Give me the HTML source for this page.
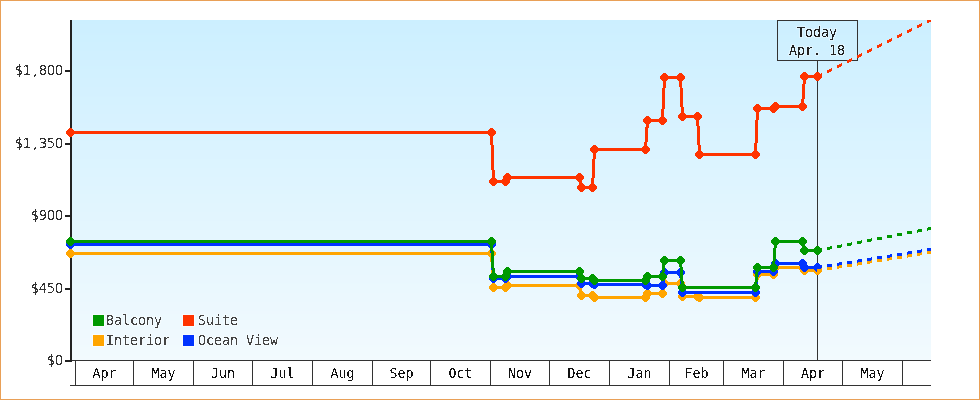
<!DOCTYPE html>
<html><head><meta charset="utf-8"><style>
html,body{margin:0;padding:0;background:#fff;}
#wrap{position:relative;width:980px;height:400px;box-sizing:border-box;border:1px solid #e9a057;overflow:hidden;background:#fff}
svg{position:absolute;left:-1px;top:-1px;display:block}
</style></head><body><div id="wrap">
<svg width="980" height="400" viewBox="0 0 980 400">
<defs><filter id="th" x="-10%" y="-30%" width="120%" height="160%" color-interpolation-filters="sRGB"><feComponentTransfer in="SourceGraphic" result="g"><feFuncA type="discrete" tableValues="0 0 1 1"/></feComponentTransfer><feMorphology in="g" operator="dilate" radius="1" result="d"/><feFlood flood-color="#fff" flood-opacity="0.35"/><feComposite in2="d" operator="in" result="h"/><feMerge><feMergeNode in="h"/><feMergeNode in="g"/></feMerge></filter><clipPath id="pc"><rect x="70" y="20" width="861" height="340"/></clipPath></defs>
<g shape-rendering="crispEdges">
<rect x="72" y="20" width="859" height="4" fill="#ccefff"/>
<rect x="72" y="24" width="859" height="9" fill="#cdefff"/>
<rect x="72" y="33" width="859" height="2" fill="#ceefff"/>
<rect x="72" y="35" width="859" height="7" fill="#cef0ff"/>
<rect x="72" y="42" width="859" height="9" fill="#cff0ff"/>
<rect x="72" y="51" width="859" height="9" fill="#d0f0ff"/>
<rect x="72" y="60" width="859" height="6" fill="#d1f0ff"/>
<rect x="72" y="66" width="859" height="3" fill="#d1f1ff"/>
<rect x="72" y="69" width="859" height="9" fill="#d2f1ff"/>
<rect x="72" y="78" width="859" height="9" fill="#d3f1ff"/>
<rect x="72" y="87" width="859" height="9" fill="#d4f1ff"/>
<rect x="72" y="96" width="859" height="1" fill="#d5f1ff"/>
<rect x="72" y="97" width="859" height="8" fill="#d5f2ff"/>
<rect x="72" y="105" width="859" height="9" fill="#d6f2ff"/>
<rect x="72" y="114" width="859" height="9" fill="#d7f2ff"/>
<rect x="72" y="123" width="859" height="5" fill="#d8f2ff"/>
<rect x="72" y="128" width="859" height="4" fill="#d8f3ff"/>
<rect x="72" y="132" width="859" height="9" fill="#d9f3ff"/>
<rect x="72" y="141" width="859" height="9" fill="#daf3ff"/>
<rect x="72" y="150" width="859" height="9" fill="#dbf3ff"/>
<rect x="72" y="159" width="859" height="9" fill="#dcf4ff"/>
<rect x="72" y="168" width="859" height="9" fill="#ddf4ff"/>
<rect x="72" y="177" width="859" height="9" fill="#def4ff"/>
<rect x="72" y="186" width="859" height="4" fill="#dff4ff"/>
<rect x="72" y="190" width="859" height="4" fill="#dff5fe"/>
<rect x="72" y="194" width="859" height="9" fill="#e0f5fe"/>
<rect x="72" y="203" width="859" height="9" fill="#e1f5fe"/>
<rect x="72" y="212" width="859" height="9" fill="#e2f5fe"/>
<rect x="72" y="221" width="859" height="9" fill="#e3f6fe"/>
<rect x="72" y="230" width="859" height="9" fill="#e4f6fe"/>
<rect x="72" y="239" width="859" height="9" fill="#e5f6fe"/>
<rect x="72" y="248" width="859" height="4" fill="#e6f6fe"/>
<rect x="72" y="252" width="859" height="5" fill="#e6f7fe"/>
<rect x="72" y="257" width="859" height="9" fill="#e7f7fe"/>
<rect x="72" y="266" width="859" height="9" fill="#e8f7fe"/>
<rect x="72" y="275" width="859" height="8" fill="#e9f7fe"/>
<rect x="72" y="283" width="859" height="1" fill="#e9f8fe"/>
<rect x="72" y="284" width="859" height="9" fill="#eaf8fe"/>
<rect x="72" y="293" width="859" height="9" fill="#ebf8fe"/>
<rect x="72" y="302" width="859" height="9" fill="#ecf8fe"/>
<rect x="72" y="311" width="859" height="3" fill="#edf8fe"/>
<rect x="72" y="314" width="859" height="6" fill="#edf9fe"/>
<rect x="72" y="320" width="859" height="9" fill="#eef9fe"/>
<rect x="72" y="329" width="859" height="9" fill="#eff9fe"/>
<rect x="72" y="338" width="859" height="7" fill="#f0f9fe"/>
<rect x="72" y="345" width="859" height="2" fill="#f0fafe"/>
<rect x="72" y="347" width="859" height="9" fill="#f1fafe"/>
<rect x="72" y="356" width="859" height="4" fill="#f2fafe"/>
</g>
<g shape-rendering="crispEdges" fill="#333">
<rect x="71" y="360" width="860" height="1"/>
<rect x="70" y="385" width="861" height="1"/>
<rect x="75" y="360" width="1" height="26"/>
<rect x="133" y="360" width="1" height="26"/>
<rect x="193" y="360" width="1" height="26"/>
<rect x="252" y="360" width="1" height="26"/>
<rect x="312" y="360" width="1" height="26"/>
<rect x="372" y="360" width="1" height="26"/>
<rect x="430" y="360" width="1" height="26"/>
<rect x="490" y="360" width="1" height="26"/>
<rect x="549" y="360" width="1" height="26"/>
<rect x="609" y="360" width="1" height="26"/>
<rect x="669" y="360" width="1" height="26"/>
<rect x="723" y="360" width="1" height="26"/>
<rect x="783" y="360" width="1" height="26"/>
<rect x="842" y="360" width="1" height="26"/>
<rect x="902" y="360" width="1" height="26"/>
</g>
<g filter="url(#th)" font-family="DejaVu Sans Mono, monospace" font-size="13.3" fill="#111" text-anchor="middle">
<text x="104.5" y="378">Apr</text>
<text x="163.5" y="378">May</text>
<text x="223" y="378">Jun</text>
<text x="282.5" y="378">Jul</text>
<text x="342.5" y="378">Aug</text>
<text x="401.5" y="378">Sep</text>
<text x="460.5" y="378">Oct</text>
<text x="520" y="378">Nov</text>
<text x="579.5" y="378">Dec</text>
<text x="639.5" y="378">Jan</text>
<text x="696.5" y="378">Feb</text>
<text x="753.5" y="378">Mar</text>
<text x="813" y="378">Apr</text>
<text x="872.5" y="378">May</text>
</g>
<g shape-rendering="crispEdges" fill="#222">
<rect x="70" y="20" width="2" height="342"/>
<rect x="65" y="70" width="6" height="2"/>
<rect x="65" y="143" width="6" height="2"/>
<rect x="65" y="215" width="6" height="2"/>
<rect x="65" y="288" width="6" height="2"/>
<rect x="65" y="360" width="6" height="2"/>
</g>
<g filter="url(#th)" font-family="DejaVu Sans, sans-serif" font-size="13.3" fill="#333" text-anchor="middle">
<text y="75"><tspan x="19" font-family="DejaVu Sans Mono, monospace">$</tspan><tspan x="27 35 43 51 59">1,800</tspan></text>
<text y="148"><tspan x="19" font-family="DejaVu Sans Mono, monospace">$</tspan><tspan x="27 35 43 51 59">1,350</tspan></text>
<text y="220"><tspan x="35" font-family="DejaVu Sans Mono, monospace">$</tspan><tspan x="43 51 59">900</tspan></text>
<text y="293"><tspan x="35" font-family="DejaVu Sans Mono, monospace">$</tspan><tspan x="43 51 59">450</tspan></text>
<text y="365"><tspan x="51" font-family="DejaVu Sans Mono, monospace">$</tspan><tspan x="59">0</tspan></text>
</g>
<g shape-rendering="crispEdges" fill="#333">
<rect x="817" y="60" width="1" height="300"/>
<rect x="777" y="20" width="81" height="1"/><rect x="777" y="60" width="81" height="1"/>
<rect x="777" y="20" width="1" height="41"/><rect x="857" y="20" width="1" height="41"/>
</g>
<g filter="url(#th)" font-family="DejaVu Sans Mono, monospace" font-size="13.3" fill="#222" text-anchor="middle">
<text x="817" y="37">Today</text><text x="817" y="55">Apr. 18</text>
</g>
<g shape-rendering="crispEdges">
<path d="M70.5,253.5 L491.5,253.5 L493.5,287.5 L505.5,287.5 L507.5,285.5 L579.5,285.5 L581.5,295.5 L592.5,295.5 L594.5,297.5 L645.5,297.5 L647.5,293.5 L662.5,293.5 L664.5,283.5 L680.5,283.5 L682.5,296.5 L697.5,296.5 L699.5,297.5 L755.5,297.5 L757.5,274.5 L773.5,274.5 L775.5,267.5 L802.5,267.5 L804.5,270.5 L817.5,270.5" fill="none" stroke="#ffa500" stroke-width="3"/>
<path d="M72,250 73,250 73,251 74,251 74,256 73,256 73,257 72,257 72,258 69,258 69,257 68,257 68,256 67,256 67,255 66,255 66,252 67,252 67,251 68,251 68,250 69,250 69,249 72,249ZM490,249 493,249 493,250 494,250 494,251 495,251 495,252 496,252 496,255 495,255 495,256 494,256 494,257 493,257 493,258 490,258 490,257 489,257 489,256 488,256 488,251 489,251 489,250 490,250ZM495,284 496,284 496,285 497,285 497,290 496,290 496,291 495,291 495,292 492,292 492,291 491,291 491,290 490,290 490,289 489,289 489,286 490,286 490,285 491,285 491,284 492,284 492,283 495,283ZM504,283 507,283 507,284 508,284 508,285 509,285 509,286 510,286 510,289 509,289 509,290 508,290 508,291 507,291 507,292 504,292 504,291 503,291 503,290 502,290 502,285 503,285 503,284 504,284ZM509,282 510,282 510,283 511,283 511,288 510,288 510,289 509,289 509,290 506,290 506,289 505,289 505,288 504,288 504,287 503,287 503,284 504,284 504,283 505,283 505,282 506,282 506,281 509,281ZM578,281 581,281 581,282 582,282 582,283 583,283 583,284 584,284 584,287 583,287 583,288 582,288 582,289 581,289 581,290 578,290 578,289 577,289 577,288 576,288 576,283 577,283 577,282 578,282ZM583,292 584,292 584,293 585,293 585,298 584,298 584,299 583,299 583,300 580,300 580,299 579,299 579,298 578,298 578,297 577,297 577,294 578,294 578,293 579,293 579,292 580,292 580,291 583,291ZM591,291 594,291 594,292 595,292 595,293 596,293 596,294 597,294 597,297 596,297 596,298 595,298 595,299 594,299 594,300 591,300 591,299 590,299 590,298 589,298 589,293 590,293 590,292 591,292ZM596,294 597,294 597,295 598,295 598,300 597,300 597,301 596,301 596,302 593,302 593,301 592,301 592,300 591,300 591,299 590,299 590,296 591,296 591,295 592,295 592,294 593,294 593,293 596,293ZM644,293 647,293 647,294 648,294 648,295 649,295 649,296 650,296 650,299 649,299 649,300 648,300 648,301 647,301 647,302 644,302 644,301 643,301 643,300 642,300 642,295 643,295 643,294 644,294ZM649,290 650,290 650,291 651,291 651,296 650,296 650,297 649,297 649,298 646,298 646,297 645,297 645,296 644,296 644,295 643,295 643,292 644,292 644,291 645,291 645,290 646,290 646,289 649,289ZM661,289 664,289 664,290 665,290 665,291 666,291 666,292 667,292 667,295 666,295 666,296 665,296 665,297 664,297 664,298 661,298 661,297 660,297 660,296 659,296 659,291 660,291 660,290 661,290ZM666,280 667,280 667,281 668,281 668,286 667,286 667,287 666,287 666,288 663,288 663,287 662,287 662,286 661,286 661,285 660,285 660,282 661,282 661,281 662,281 662,280 663,280 663,279 666,279ZM679,279 682,279 682,280 683,280 683,281 684,281 684,282 685,282 685,285 684,285 684,286 683,286 683,287 682,287 682,288 679,288 679,287 678,287 678,286 677,286 677,281 678,281 678,280 679,280ZM684,293 685,293 685,294 686,294 686,299 685,299 685,300 684,300 684,301 681,301 681,300 680,300 680,299 679,299 679,298 678,298 678,295 679,295 679,294 680,294 680,293 681,293 681,292 684,292ZM696,292 699,292 699,293 700,293 700,294 701,294 701,295 702,295 702,298 701,298 701,299 700,299 700,300 699,300 699,301 696,301 696,300 695,300 695,299 694,299 694,294 695,294 695,293 696,293ZM701,294 702,294 702,295 703,295 703,300 702,300 702,301 701,301 701,302 698,302 698,301 697,301 697,300 696,300 696,299 695,299 695,296 696,296 696,295 697,295 697,294 698,294 698,293 701,293ZM754,293 757,293 757,294 758,294 758,295 759,295 759,296 760,296 760,299 759,299 759,300 758,300 758,301 757,301 757,302 754,302 754,301 753,301 753,300 752,300 752,295 753,295 753,294 754,294ZM759,271 760,271 760,272 761,272 761,277 760,277 760,278 759,278 759,279 756,279 756,278 755,278 755,277 754,277 754,276 753,276 753,273 754,273 754,272 755,272 755,271 756,271 756,270 759,270ZM772,270 775,270 775,271 776,271 776,272 777,272 777,273 778,273 778,276 777,276 777,277 776,277 776,278 775,278 775,279 772,279 772,278 771,278 771,277 770,277 770,272 771,272 771,271 772,271ZM777,264 778,264 778,265 779,265 779,270 778,270 778,271 777,271 777,272 774,272 774,271 773,271 773,270 772,270 772,269 771,269 771,266 772,266 772,265 773,265 773,264 774,264 774,263 777,263ZM801,263 804,263 804,264 805,264 805,265 806,265 806,266 807,266 807,269 806,269 806,270 805,270 805,271 804,271 804,272 801,272 801,271 800,271 800,270 799,270 799,265 800,265 800,264 801,264ZM806,267 807,267 807,268 808,268 808,273 807,273 807,274 806,274 806,275 803,275 803,274 802,274 802,273 801,273 801,272 800,272 800,269 801,269 801,268 802,268 802,267 803,267 803,266 806,266ZM816,266 819,266 819,267 820,267 820,268 821,268 821,269 822,269 822,272 821,272 821,273 820,273 820,274 819,274 819,275 816,275 816,274 815,274 815,273 814,273 814,268 815,268 815,267 816,267Z" fill="#ffa500"/>
<path d="M70.5,244.5 L491.5,244.5 L493.5,278.5 L505.5,278.5 L507.5,276.5 L579.5,276.5 L581.5,283.5 L592.5,283.5 L594.5,284.5 L645.5,284.5 L647.5,285.5 L662.5,285.5 L664.5,272.5 L680.5,272.5 L682.5,292.5 L755.5,292.5 L757.5,271.5 L773.5,271.5 L775.5,263.5 L802.5,263.5 L804.5,267.5 L817.5,267.5" fill="none" stroke="#0033ff" stroke-width="3"/>
<path d="M72,241 73,241 73,242 74,242 74,247 73,247 73,248 72,248 72,249 69,249 69,248 68,248 68,247 67,247 67,246 66,246 66,243 67,243 67,242 68,242 68,241 69,241 69,240 72,240ZM490,240 493,240 493,241 494,241 494,242 495,242 495,243 496,243 496,246 495,246 495,247 494,247 494,248 493,248 493,249 490,249 490,248 489,248 489,247 488,247 488,242 489,242 489,241 490,241ZM495,275 496,275 496,276 497,276 497,281 496,281 496,282 495,282 495,283 492,283 492,282 491,282 491,281 490,281 490,280 489,280 489,277 490,277 490,276 491,276 491,275 492,275 492,274 495,274ZM504,274 507,274 507,275 508,275 508,276 509,276 509,277 510,277 510,280 509,280 509,281 508,281 508,282 507,282 507,283 504,283 504,282 503,282 503,281 502,281 502,276 503,276 503,275 504,275ZM509,273 510,273 510,274 511,274 511,279 510,279 510,280 509,280 509,281 506,281 506,280 505,280 505,279 504,279 504,278 503,278 503,275 504,275 504,274 505,274 505,273 506,273 506,272 509,272ZM578,272 581,272 581,273 582,273 582,274 583,274 583,275 584,275 584,278 583,278 583,279 582,279 582,280 581,280 581,281 578,281 578,280 577,280 577,279 576,279 576,274 577,274 577,273 578,273ZM583,280 584,280 584,281 585,281 585,286 584,286 584,287 583,287 583,288 580,288 580,287 579,287 579,286 578,286 578,285 577,285 577,282 578,282 578,281 579,281 579,280 580,280 580,279 583,279ZM591,279 594,279 594,280 595,280 595,281 596,281 596,282 597,282 597,285 596,285 596,286 595,286 595,287 594,287 594,288 591,288 591,287 590,287 590,286 589,286 589,281 590,281 590,280 591,280ZM596,281 597,281 597,282 598,282 598,287 597,287 597,288 596,288 596,289 593,289 593,288 592,288 592,287 591,287 591,286 590,286 590,283 591,283 591,282 592,282 592,281 593,281 593,280 596,280ZM644,280 647,280 647,281 648,281 648,282 649,282 649,283 650,283 650,286 649,286 649,287 648,287 648,288 647,288 647,289 644,289 644,288 643,288 643,287 642,287 642,282 643,282 643,281 644,281ZM649,282 650,282 650,283 651,283 651,288 650,288 650,289 649,289 649,290 646,290 646,289 645,289 645,288 644,288 644,287 643,287 643,284 644,284 644,283 645,283 645,282 646,282 646,281 649,281ZM661,281 664,281 664,282 665,282 665,283 666,283 666,284 667,284 667,287 666,287 666,288 665,288 665,289 664,289 664,290 661,290 661,289 660,289 660,288 659,288 659,283 660,283 660,282 661,282ZM666,269 667,269 667,270 668,270 668,275 667,275 667,276 666,276 666,277 663,277 663,276 662,276 662,275 661,275 661,274 660,274 660,271 661,271 661,270 662,270 662,269 663,269 663,268 666,268ZM679,268 682,268 682,269 683,269 683,270 684,270 684,271 685,271 685,274 684,274 684,275 683,275 683,276 682,276 682,277 679,277 679,276 678,276 678,275 677,275 677,270 678,270 678,269 679,269ZM684,289 685,289 685,290 686,290 686,295 685,295 685,296 684,296 684,297 681,297 681,296 680,296 680,295 679,295 679,294 678,294 678,291 679,291 679,290 680,290 680,289 681,289 681,288 684,288ZM754,288 757,288 757,289 758,289 758,290 759,290 759,291 760,291 760,294 759,294 759,295 758,295 758,296 757,296 757,297 754,297 754,296 753,296 753,295 752,295 752,290 753,290 753,289 754,289ZM759,268 760,268 760,269 761,269 761,274 760,274 760,275 759,275 759,276 756,276 756,275 755,275 755,274 754,274 754,273 753,273 753,270 754,270 754,269 755,269 755,268 756,268 756,267 759,267ZM772,267 775,267 775,268 776,268 776,269 777,269 777,270 778,270 778,273 777,273 777,274 776,274 776,275 775,275 775,276 772,276 772,275 771,275 771,274 770,274 770,269 771,269 771,268 772,268ZM777,260 778,260 778,261 779,261 779,266 778,266 778,267 777,267 777,268 774,268 774,267 773,267 773,266 772,266 772,265 771,265 771,262 772,262 772,261 773,261 773,260 774,260 774,259 777,259ZM801,259 804,259 804,260 805,260 805,261 806,261 806,262 807,262 807,265 806,265 806,266 805,266 805,267 804,267 804,268 801,268 801,267 800,267 800,266 799,266 799,261 800,261 800,260 801,260ZM806,264 807,264 807,265 808,265 808,270 807,270 807,271 806,271 806,272 803,272 803,271 802,271 802,270 801,270 801,269 800,269 800,266 801,266 801,265 802,265 802,264 803,264 803,263 806,263ZM816,263 819,263 819,264 820,264 820,265 821,265 821,266 822,266 822,269 821,269 821,270 820,270 820,271 819,271 819,272 816,272 816,271 815,271 815,270 814,270 814,265 815,265 815,264 816,264Z" fill="#0033ff"/>
<path d="M70.5,241.5 L491.5,241.5 L493.5,276.5 L505.5,276.5 L507.5,271.5 L579.5,271.5 L581.5,278.5 L592.5,278.5 L594.5,280.5 L645.5,280.5 L647.5,276.5 L662.5,276.5 L664.5,260.5 L680.5,260.5 L682.5,287.5 L755.5,287.5 L757.5,267.5 L773.5,267.5 L775.5,241.5 L802.5,241.5 L804.5,250.5 L817.5,250.5" fill="none" stroke="#009900" stroke-width="3"/>
<path d="M72,238 73,238 73,239 74,239 74,244 73,244 73,245 72,245 72,246 69,246 69,245 68,245 68,244 67,244 67,243 66,243 66,240 67,240 67,239 68,239 68,238 69,238 69,237 72,237ZM490,237 493,237 493,238 494,238 494,239 495,239 495,240 496,240 496,243 495,243 495,244 494,244 494,245 493,245 493,246 490,246 490,245 489,245 489,244 488,244 488,239 489,239 489,238 490,238ZM495,273 496,273 496,274 497,274 497,279 496,279 496,280 495,280 495,281 492,281 492,280 491,280 491,279 490,279 490,278 489,278 489,275 490,275 490,274 491,274 491,273 492,273 492,272 495,272ZM504,272 507,272 507,273 508,273 508,274 509,274 509,275 510,275 510,278 509,278 509,279 508,279 508,280 507,280 507,281 504,281 504,280 503,280 503,279 502,279 502,274 503,274 503,273 504,273ZM509,268 510,268 510,269 511,269 511,274 510,274 510,275 509,275 509,276 506,276 506,275 505,275 505,274 504,274 504,273 503,273 503,270 504,270 504,269 505,269 505,268 506,268 506,267 509,267ZM578,267 581,267 581,268 582,268 582,269 583,269 583,270 584,270 584,273 583,273 583,274 582,274 582,275 581,275 581,276 578,276 578,275 577,275 577,274 576,274 576,269 577,269 577,268 578,268ZM583,275 584,275 584,276 585,276 585,281 584,281 584,282 583,282 583,283 580,283 580,282 579,282 579,281 578,281 578,280 577,280 577,277 578,277 578,276 579,276 579,275 580,275 580,274 583,274ZM591,274 594,274 594,275 595,275 595,276 596,276 596,277 597,277 597,280 596,280 596,281 595,281 595,282 594,282 594,283 591,283 591,282 590,282 590,281 589,281 589,276 590,276 590,275 591,275ZM596,277 597,277 597,278 598,278 598,283 597,283 597,284 596,284 596,285 593,285 593,284 592,284 592,283 591,283 591,282 590,282 590,279 591,279 591,278 592,278 592,277 593,277 593,276 596,276ZM644,276 647,276 647,277 648,277 648,278 649,278 649,279 650,279 650,282 649,282 649,283 648,283 648,284 647,284 647,285 644,285 644,284 643,284 643,283 642,283 642,278 643,278 643,277 644,277ZM649,273 650,273 650,274 651,274 651,279 650,279 650,280 649,280 649,281 646,281 646,280 645,280 645,279 644,279 644,278 643,278 643,275 644,275 644,274 645,274 645,273 646,273 646,272 649,272ZM661,272 664,272 664,273 665,273 665,274 666,274 666,275 667,275 667,278 666,278 666,279 665,279 665,280 664,280 664,281 661,281 661,280 660,280 660,279 659,279 659,274 660,274 660,273 661,273ZM666,257 667,257 667,258 668,258 668,263 667,263 667,264 666,264 666,265 663,265 663,264 662,264 662,263 661,263 661,262 660,262 660,259 661,259 661,258 662,258 662,257 663,257 663,256 666,256ZM679,256 682,256 682,257 683,257 683,258 684,258 684,259 685,259 685,262 684,262 684,263 683,263 683,264 682,264 682,265 679,265 679,264 678,264 678,263 677,263 677,258 678,258 678,257 679,257ZM684,284 685,284 685,285 686,285 686,290 685,290 685,291 684,291 684,292 681,292 681,291 680,291 680,290 679,290 679,289 678,289 678,286 679,286 679,285 680,285 680,284 681,284 681,283 684,283ZM754,283 757,283 757,284 758,284 758,285 759,285 759,286 760,286 760,289 759,289 759,290 758,290 758,291 757,291 757,292 754,292 754,291 753,291 753,290 752,290 752,285 753,285 753,284 754,284ZM759,264 760,264 760,265 761,265 761,270 760,270 760,271 759,271 759,272 756,272 756,271 755,271 755,270 754,270 754,269 753,269 753,266 754,266 754,265 755,265 755,264 756,264 756,263 759,263ZM772,263 775,263 775,264 776,264 776,265 777,265 777,266 778,266 778,269 777,269 777,270 776,270 776,271 775,271 775,272 772,272 772,271 771,271 771,270 770,270 770,265 771,265 771,264 772,264ZM777,238 778,238 778,239 779,239 779,244 778,244 778,245 777,245 777,246 774,246 774,245 773,245 773,244 772,244 772,243 771,243 771,240 772,240 772,239 773,239 773,238 774,238 774,237 777,237ZM801,237 804,237 804,238 805,238 805,239 806,239 806,240 807,240 807,243 806,243 806,244 805,244 805,245 804,245 804,246 801,246 801,245 800,245 800,244 799,244 799,239 800,239 800,238 801,238ZM806,247 807,247 807,248 808,248 808,253 807,253 807,254 806,254 806,255 803,255 803,254 802,254 802,253 801,253 801,252 800,252 800,249 801,249 801,248 802,248 802,247 803,247 803,246 806,246ZM816,246 819,246 819,247 820,247 820,248 821,248 821,249 822,249 822,252 821,252 821,253 820,253 820,254 819,254 819,255 816,255 816,254 815,254 815,253 814,253 814,248 815,248 815,247 816,247Z" fill="#009900"/>
<path d="M70.5,132.5 L491.5,132.5 L493.5,181.5 L505.5,181.5 L507.5,177.5 L579.5,177.5 L581.5,187.5 L592.5,187.5 L594.5,149.5 L645.5,149.5 L647.5,120.5 L662.5,120.5 L664.5,77.5 L680.5,77.5 L682.5,116.5 L697.5,116.5 L699.5,154.5 L755.5,154.5 L757.5,108.5 L773.5,108.5 L775.5,106.5 L802.5,106.5 L804.5,76.5 L817.5,76.5" fill="none" stroke="#ff3300" stroke-width="3"/>
<path d="M72,129 73,129 73,130 74,130 74,135 73,135 73,136 72,136 72,137 69,137 69,136 68,136 68,135 67,135 67,134 66,134 66,131 67,131 67,130 68,130 68,129 69,129 69,128 72,128ZM490,128 493,128 493,129 494,129 494,130 495,130 495,131 496,131 496,134 495,134 495,135 494,135 494,136 493,136 493,137 490,137 490,136 489,136 489,135 488,135 488,130 489,130 489,129 490,129ZM495,178 496,178 496,179 497,179 497,184 496,184 496,185 495,185 495,186 492,186 492,185 491,185 491,184 490,184 490,183 489,183 489,180 490,180 490,179 491,179 491,178 492,178 492,177 495,177ZM504,177 507,177 507,178 508,178 508,179 509,179 509,180 510,180 510,183 509,183 509,184 508,184 508,185 507,185 507,186 504,186 504,185 503,185 503,184 502,184 502,179 503,179 503,178 504,178ZM509,174 510,174 510,175 511,175 511,180 510,180 510,181 509,181 509,182 506,182 506,181 505,181 505,180 504,180 504,179 503,179 503,176 504,176 504,175 505,175 505,174 506,174 506,173 509,173ZM578,173 581,173 581,174 582,174 582,175 583,175 583,176 584,176 584,179 583,179 583,180 582,180 582,181 581,181 581,182 578,182 578,181 577,181 577,180 576,180 576,175 577,175 577,174 578,174ZM583,184 584,184 584,185 585,185 585,190 584,190 584,191 583,191 583,192 580,192 580,191 579,191 579,190 578,190 578,189 577,189 577,186 578,186 578,185 579,185 579,184 580,184 580,183 583,183ZM591,183 594,183 594,184 595,184 595,185 596,185 596,186 597,186 597,189 596,189 596,190 595,190 595,191 594,191 594,192 591,192 591,191 590,191 590,190 589,190 589,185 590,185 590,184 591,184ZM596,146 597,146 597,147 598,147 598,152 597,152 597,153 596,153 596,154 593,154 593,153 592,153 592,152 591,152 591,151 590,151 590,148 591,148 591,147 592,147 592,146 593,146 593,145 596,145ZM644,145 647,145 647,146 648,146 648,147 649,147 649,148 650,148 650,151 649,151 649,152 648,152 648,153 647,153 647,154 644,154 644,153 643,153 643,152 642,152 642,147 643,147 643,146 644,146ZM649,117 650,117 650,118 651,118 651,123 650,123 650,124 649,124 649,125 646,125 646,124 645,124 645,123 644,123 644,122 643,122 643,119 644,119 644,118 645,118 645,117 646,117 646,116 649,116ZM661,116 664,116 664,117 665,117 665,118 666,118 666,119 667,119 667,122 666,122 666,123 665,123 665,124 664,124 664,125 661,125 661,124 660,124 660,123 659,123 659,118 660,118 660,117 661,117ZM666,74 667,74 667,75 668,75 668,80 667,80 667,81 666,81 666,82 663,82 663,81 662,81 662,80 661,80 661,79 660,79 660,76 661,76 661,75 662,75 662,74 663,74 663,73 666,73ZM679,73 682,73 682,74 683,74 683,75 684,75 684,76 685,76 685,79 684,79 684,80 683,80 683,81 682,81 682,82 679,82 679,81 678,81 678,80 677,80 677,75 678,75 678,74 679,74ZM684,113 685,113 685,114 686,114 686,119 685,119 685,120 684,120 684,121 681,121 681,120 680,120 680,119 679,119 679,118 678,118 678,115 679,115 679,114 680,114 680,113 681,113 681,112 684,112ZM696,112 699,112 699,113 700,113 700,114 701,114 701,115 702,115 702,118 701,118 701,119 700,119 700,120 699,120 699,121 696,121 696,120 695,120 695,119 694,119 694,114 695,114 695,113 696,113ZM701,151 702,151 702,152 703,152 703,157 702,157 702,158 701,158 701,159 698,159 698,158 697,158 697,157 696,157 696,156 695,156 695,153 696,153 696,152 697,152 697,151 698,151 698,150 701,150ZM754,150 757,150 757,151 758,151 758,152 759,152 759,153 760,153 760,156 759,156 759,157 758,157 758,158 757,158 757,159 754,159 754,158 753,158 753,157 752,157 752,152 753,152 753,151 754,151ZM759,105 760,105 760,106 761,106 761,111 760,111 760,112 759,112 759,113 756,113 756,112 755,112 755,111 754,111 754,110 753,110 753,107 754,107 754,106 755,106 755,105 756,105 756,104 759,104ZM772,104 775,104 775,105 776,105 776,106 777,106 777,107 778,107 778,110 777,110 777,111 776,111 776,112 775,112 775,113 772,113 772,112 771,112 771,111 770,111 770,106 771,106 771,105 772,105ZM777,103 778,103 778,104 779,104 779,109 778,109 778,110 777,110 777,111 774,111 774,110 773,110 773,109 772,109 772,108 771,108 771,105 772,105 772,104 773,104 773,103 774,103 774,102 777,102ZM801,102 804,102 804,103 805,103 805,104 806,104 806,105 807,105 807,108 806,108 806,109 805,109 805,110 804,110 804,111 801,111 801,110 800,110 800,109 799,109 799,104 800,104 800,103 801,103ZM806,73 807,73 807,74 808,74 808,79 807,79 807,80 806,80 806,81 803,81 803,80 802,80 802,79 801,79 801,78 800,78 800,75 801,75 801,74 802,74 802,73 803,73 803,72 806,72ZM816,72 819,72 819,73 820,73 820,74 821,74 821,75 822,75 822,78 821,78 821,79 820,79 820,80 819,80 819,81 816,81 816,80 815,80 815,79 814,79 814,74 815,74 815,73 816,73Z" fill="#ff3300"/>
<path d="M817.00,269.08 L822.00,268.28 L822.00,271.28 L817.00,272.08Z M827.00,267.48 L832.00,266.67 L832.00,269.67 L827.00,270.48Z M837.00,265.87 L842.00,265.07 L842.00,268.07 L837.00,268.87Z M847.00,264.27 L852.00,263.47 L852.00,266.47 L847.00,267.27Z M857.00,262.67 L862.00,261.86 L862.00,264.86 L857.00,265.67Z M867.00,261.06 L872.00,260.26 L872.00,263.26 L867.00,264.06Z M877.00,259.46 L882.00,258.66 L882.00,261.66 L877.00,262.46Z M887.00,257.86 L892.00,257.05 L892.00,260.05 L887.00,260.86Z M897.00,256.25 L902.00,255.45 L902.00,258.45 L897.00,259.25Z M907.00,254.65 L912.00,253.85 L912.00,256.85 L907.00,257.65Z M917.00,253.04 L922.00,252.24 L922.00,255.24 L917.00,256.04Z M927.00,251.44 L931.00,250.80 L931.00,253.80 L927.00,254.44Z" fill="#ffa500" clip-path="url(#pc)"/>
<path d="M817.00,266.08 L822.00,265.28 L822.00,268.28 L817.00,269.08Z M827.00,264.49 L832.00,263.69 L832.00,266.69 L827.00,267.49Z M837.00,262.89 L842.00,262.09 L842.00,265.09 L837.00,265.89Z M847.00,261.30 L852.00,260.50 L852.00,263.50 L847.00,264.30Z M857.00,259.70 L862.00,258.90 L862.00,261.90 L857.00,262.70Z M867.00,258.11 L872.00,257.31 L872.00,260.31 L867.00,261.11Z M877.00,256.51 L882.00,255.71 L882.00,258.71 L877.00,259.51Z M887.00,254.92 L892.00,254.12 L892.00,257.12 L887.00,257.92Z M897.00,253.32 L902.00,252.52 L902.00,255.52 L897.00,256.32Z M907.00,251.73 L912.00,250.93 L912.00,253.93 L907.00,254.73Z M917.00,250.13 L922.00,249.34 L922.00,252.34 L917.00,253.13Z M927.00,248.54 L931.00,247.90 L931.00,250.90 L927.00,251.54Z" fill="#0033ff" clip-path="url(#pc)"/>
<path d="M817.00,249.10 L822.00,248.12 L822.00,251.12 L817.00,252.10Z M827.00,247.15 L832.00,246.18 L832.00,249.18 L827.00,250.15Z M837.00,245.20 L842.00,244.23 L842.00,247.23 L837.00,248.20Z M847.00,243.26 L852.00,242.28 L852.00,245.28 L847.00,246.26Z M857.00,241.31 L862.00,240.34 L862.00,243.34 L857.00,244.31Z M867.00,239.36 L872.00,238.39 L872.00,241.39 L867.00,242.36Z M877.00,237.41 L882.00,236.44 L882.00,239.44 L877.00,240.41Z M887.00,235.47 L892.00,234.49 L892.00,237.49 L887.00,238.47Z M897.00,233.52 L902.00,232.55 L902.00,235.55 L897.00,236.52Z M907.00,231.57 L912.00,230.60 L912.00,233.60 L907.00,234.57Z M917.00,229.63 L922.00,228.65 L922.00,231.65 L917.00,232.63Z M927.00,227.68 L931.00,226.90 L931.00,229.90 L927.00,230.68Z" fill="#009900" clip-path="url(#pc)"/>
<path d="M817.00,75.25 L822.00,72.75 L822.00,75.75 L817.00,78.25Z M827.00,70.25 L832.00,67.76 L832.00,70.76 L827.00,73.25Z M837.00,65.26 L842.00,62.76 L842.00,65.76 L837.00,68.26Z M847.00,60.26 L852.00,57.77 L852.00,60.77 L847.00,63.26Z M857.00,55.27 L862.00,52.77 L862.00,55.77 L857.00,58.27Z M867.00,50.27 L872.00,47.77 L872.00,50.77 L867.00,53.27Z M877.00,45.28 L882.00,42.78 L882.00,45.78 L877.00,48.28Z M887.00,40.28 L892.00,37.78 L892.00,40.78 L887.00,43.28Z M897.00,35.29 L902.00,32.79 L902.00,35.79 L897.00,38.29Z M907.00,30.29 L912.00,27.79 L912.00,30.79 L907.00,33.29Z M917.00,25.29 L922.00,22.80 L922.00,25.80 L917.00,28.29Z M927.00,20.30 L931.00,18.30 L931.00,21.30 L927.00,23.30Z" fill="#ff3300" clip-path="url(#pc)"/>
</g>
<g shape-rendering="crispEdges">
<rect x="92" y="314" width="13" height="13" fill="#fff" fill-opacity="0.6"/><rect x="93" y="315" width="11" height="11" fill="#009900"/>
<rect x="182" y="314" width="13" height="13" fill="#fff" fill-opacity="0.6"/><rect x="183" y="315" width="11" height="11" fill="#ff3300"/>
<rect x="92" y="334" width="13" height="13" fill="#fff" fill-opacity="0.6"/><rect x="93" y="335" width="11" height="11" fill="#ffa500"/>
<rect x="182" y="334" width="13" height="13" fill="#fff" fill-opacity="0.6"/><rect x="183" y="335" width="11" height="11" fill="#0033ff"/>
</g>
<g filter="url(#th)" font-family="DejaVu Sans Mono, monospace" font-size="13.3" fill="#444">
<text x="106" y="325">Balcony</text><text x="198" y="325">Suite</text>
<text x="106" y="345">Interior</text><text x="198" y="345">Ocean View</text>
</g>
</svg></div></body></html>
